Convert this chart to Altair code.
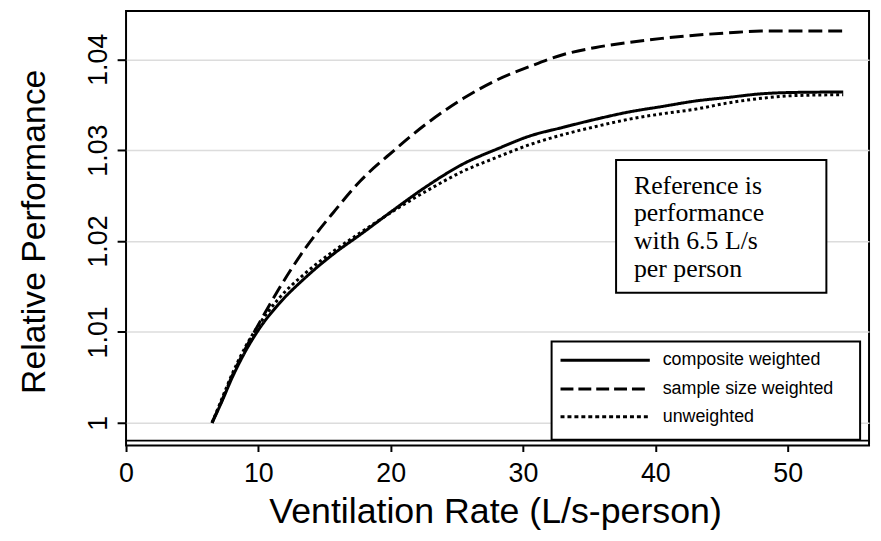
import altair as alt
import pandas as pd

# ---- data ----
x_vals = [6.5, 7.2, 8, 9, 10, 11.5, 13.5, 15.7, 17.7, 20.2, 22.7, 25.5, 28,
          30.5, 33, 35.5, 38, 40.5, 43, 45.5, 48, 50.5, 54.2]
composite = [1.0000, 1.0022, 1.0049, 1.0078, 1.0102, 1.0130, 1.0159, 1.0186,
             1.0207, 1.0234, 1.0260, 1.0285, 1.0301, 1.03155, 1.0325, 1.0334,
             1.0342, 1.0348, 1.0354, 1.0358, 1.0362, 1.03635, 1.0364]
sample_size = [1.0000, 1.0023, 1.0051, 1.0081, 1.0108, 1.0146, 1.0191, 1.0232,
               1.0266, 1.0299, 1.0329, 1.0357, 1.0377, 1.0392, 1.0405, 1.0413,
               1.04185, 1.0423, 1.04265, 1.0429, 1.0431, 1.0431, 1.0431]
unweighted = [1.0000, 1.0025, 1.0053, 1.0083, 1.0107, 1.0136, 1.0164, 1.0189,
              1.0209, 1.0233, 1.0255, 1.0277, 1.0292, 1.0306, 1.0317, 1.0326,
              1.0334, 1.0340, 1.0345, 1.0352, 1.0357, 1.0360, 1.0361]
series_names = ["composite weighted", "sample size weighted", "unweighted"]
x_ticks = [0, 10, 20, 30, 40, 50]
y_ticks = [1, 1.01, 1.02, 1.03, 1.04]
note_lines = ["Reference is", "performance", "with 6.5 L/s", "per person"]
x_title = "Ventilation Rate (L/s-person)"
y_title = "Relative Performance"

# styles
dash_patterns = [[1, 0], [14, 6], [3, 3]]
legend_dash = [[1, 0], [13, 5], [4, 3]]

rows = []
for name, vals in zip(series_names, [composite, sample_size, unweighted]):
    for xv, yv in zip(x_vals, vals):
        rows.append({"rate": xv, "perf": yv, "series": name})
df = pd.DataFrame(rows)

W, H = 749, 438
SANS = "Liberation Sans"
SERIF = "Liberation Serif"

lines = alt.Chart(df).mark_line(strokeWidth=3, color="black", interpolate="monotone").encode(
    x=alt.X("rate:Q",
            scale=alt.Scale(domain=[0, 56.15], nice=False, zero=False),
            axis=alt.Axis(values=x_ticks, grid=False, domain=False, tickSize=6, tickWidth=2,
                          tickColor="black", labelFont=SANS, labelFontSize=27, labelColor="black",
                          labelBaseline="alphabetic", labelPadding=30, labelFlush=False,
                          labelOverlap=False, title=x_title, titleFont=SANS, titleFontSize=36,
                          titleFontWeight="normal", titleColor="black", titleX=372, titleY=78,
                          titleAlign="center", titleBaseline="alphabetic")),
    y=alt.Y("perf:Q",
            scale=alt.Scale(domain=[0.99749, 1.0453], nice=False, zero=False),
            axis=alt.Axis(values=y_ticks, format=".2~f", grid=True, gridColor="#dcdcdc",
                          gridWidth=1.5, domain=False, tickSize=9, tickWidth=2, tickColor="black",
                          labelFont=SANS, labelFontSize=27, labelColor="black", labelAngle=270,
                          labelAlign="center", labelBaseline="alphabetic", labelPadding=11,
                          labelOverlap=False, title=y_title, titleFont=SANS, titleFontSize=34,
                          titleFontWeight="normal", titleColor="black", titleAngle=270,
                          titleX=-82, titleY=222, titleAlign="center",
                          titleBaseline="alphabetic")),
    strokeDash=alt.StrokeDash("series:N",
                              scale=alt.Scale(domain=series_names, range=dash_patterns),
                              legend=None),
    detail="series:N",
)

one = pd.DataFrame({"k": [0]})

# second (inner) line of the doubled x axis
inner_axis = alt.Chart(one).mark_rule(color="black", strokeWidth=2).encode(
    x=alt.value(0), x2=alt.value(W), y=alt.value(433))

# note box
note_box = alt.Chart(one).mark_rect(fill="white", stroke="black", strokeWidth=2).encode(
    x=alt.value(494), x2=alt.value(706), y=alt.value(150), y2=alt.value(284))
note_text = alt.Chart(one).mark_text(align="left", baseline="alphabetic", font=SERIF,
                                     fontSize=26, lineHeight=28, color="black").encode(
    x=alt.value(512), y=alt.value(184), text=alt.value(note_lines))

# legend
legend_box = alt.Chart(one).mark_rect(fill="white", stroke="black", strokeWidth=2).encode(
    x=alt.value(429), x2=alt.value(740), y=alt.value(333), y2=alt.value(432))
legend_layers = [legend_box]
row_y = [352, 381, 409]
for name, dash, yy in zip(series_names, legend_dash, row_y):
    d = pd.DataFrame({"series": [name]})
    legend_layers.append(
        alt.Chart(d).mark_rule(color="black", strokeWidth=3, strokeDash=dash).encode(
            x=alt.value(438), x2=alt.value(528), y=alt.value(yy)))
    legend_layers.append(
        alt.Chart(d).mark_text(align="left", baseline="middle", font=SANS, fontSize=18,
                               color="black").encode(
            x=alt.value(541), y=alt.value(yy), text="series:N"))

chart = alt.layer(lines, inner_axis, note_box, note_text, *legend_layers).properties(
    width=W, height=H,
    autosize=alt.AutoSizeParams(type="none"),
    padding={"left": 119, "top": 1, "right": 4, "bottom": 86},
    background="white",
).configure_view(stroke="black", strokeWidth=2)

chart.save("out.html", embed_options={"renderer": "svg", "actions": False})
